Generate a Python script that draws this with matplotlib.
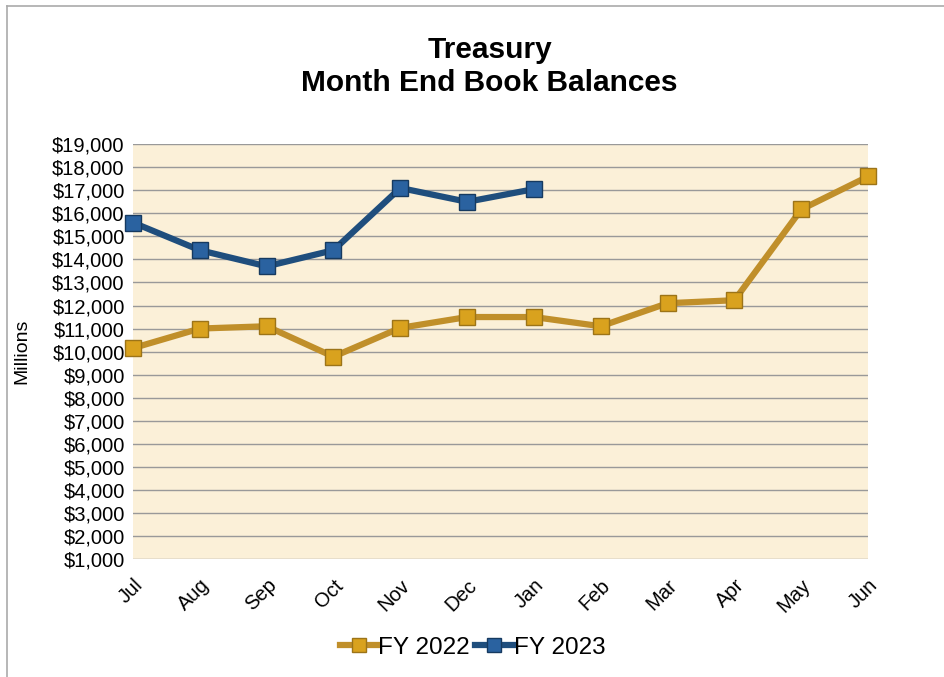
import matplotlib.pyplot as plt
import matplotlib.ticker as mticker
from matplotlib.lines import Line2D

plt.rcParams['font.family'] = ['Liberation Sans', 'DejaVu Sans']

meses = ["Jul", "Aug", "Sep", "Oct", "Nov", "Dec", "Jan", "Feb", "Mar", "Apr", "May", "Jun"]
fy2022 = [10150, 11000, 11100, 9780, 11030, 11500, 11500, 11100, 12100, 12230, 16170, 17600]
fy2023 = [15600, 14400, 13700, 14400, 17100, 16500, 17050]

color_oro = "#C08F2A"
color_azul = "#1F4E7D"

fig = plt.figure(figsize=(9.45, 6.77), dpi=100)
ax = fig.add_axes([0.1407, 0.1743, 0.778, 0.6127])
ax.set_facecolor("#FBF0D8")

x22 = range(len(fy2022))
x23 = range(len(fy2023))
ax.plot(x22, fy2022, color=color_oro, linewidth=4.5, marker='s', markersize=12,
        markerfacecolor="#D9A21E", markeredgecolor="#9C7418", markeredgewidth=1,
        clip_on=False, zorder=3, label="FY 2022")
ax.plot(x23, fy2023, color=color_azul, linewidth=4.5, marker='s', markersize=12,
        markerfacecolor="#2A62A0", markeredgecolor="#163A60", markeredgewidth=1,
        clip_on=False, zorder=4, label="FY 2023")

ax.set_xlim(0, 11)
ax.set_ylim(1000, 19000)
ax.set_yticks(range(1000, 19001, 1000))
ax.yaxis.set_major_formatter(mticker.FuncFormatter(lambda v, p: "${:,.0f}".format(v)))
ax.set_xticks(range(12))
ax.set_xticklabels(meses, rotation=45, ha='right', rotation_mode='anchor')
ax.tick_params(axis='both', length=0, labelsize=14.5)
ax.tick_params(axis='x', pad=12)
ax.tick_params(axis='y', pad=6)
ax.grid(axis='y', color="#999999", linewidth=1)
ax.set_axisbelow(True)
for s in ax.spines.values():
    s.set_visible(False)

ax.set_ylabel("Millions", fontsize=14)
ax.yaxis.set_label_coords(-0.139, 0.5)
fig.text(0.518, 0.902, "Treasury\nMonth End Book Balances", ha='center', va='center',
         fontsize=21.5, fontweight='bold', linespacing=1.2)

leg = fig.legend(loc='center', bbox_to_anchor=(0.5, 0.043), ncol=2, frameon=False,
                 fontsize=17.5, handlelength=1.6, handletextpad=0.0, columnspacing=0.2,
                 markerscale=0.8)

# borde superior e izquierdo
fig.add_artist(Line2D([0.0075, 1.0], [0.991, 0.991], transform=fig.transFigure,
                      color="#AAAAAA", linewidth=1.2))
fig.add_artist(Line2D([0.0075, 0.0075], [0.0, 0.991], transform=fig.transFigure,
                      color="#AAAAAA", linewidth=1.2))

fig.savefig("out.png", dpi=100)
